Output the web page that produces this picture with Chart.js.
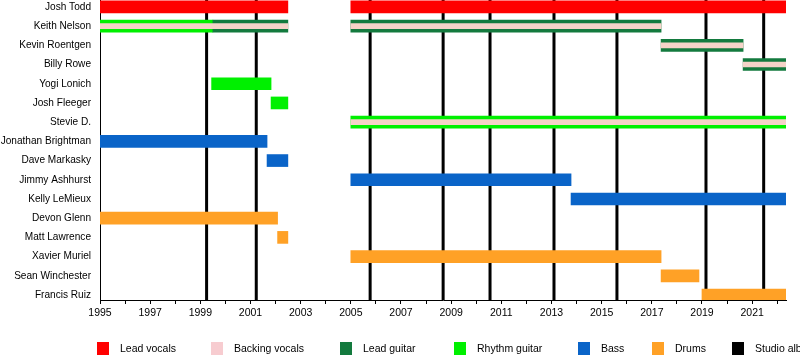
<!DOCTYPE html>
<html>
<head>
<meta charset="utf-8">
<script src="https://cdn.jsdelivr.net/npm/chart.js@4.4.1/dist/chart.umd.min.js"></script>
<style>
  body { margin: 0; background: #fff; overflow: hidden; }
  #wrap { width: 800px; height: 360px; position: relative; }
</style>
</head>
<body>
<div id="wrap"><canvas id="timeline"></canvas></div>
<script>
// Band members, top to bottom
const members = [
  'Josh Todd', 'Keith Nelson', 'Kevin Roentgen', 'Billy Rowe', 'Yogi Lonich',
  'Josh Fleeger', 'Stevie D.', 'Jonathan Brightman', 'Dave Markasky',
  'Jimmy Ashhurst', 'Kelly LeMieux', 'Devon Glenn', 'Matt Lawrence',
  'Xavier Muriel', 'Sean Winchester', 'Francis Ruiz'
];

const roles = ['Lead vocals', 'Backing vocals', 'Lead guitar', 'Rhythm guitar', 'Bass', 'Drums', 'Studio albums'];
const roleColors = ['#ff0000', '#f7ccd0', '#137a3e', '#00f000', '#0a64c8', '#ffa126', '#000000'];

const startYear = 1995;
const endYear = 2022.35;

// [member, role, from, to]
const spans = [
  ['Josh Todd', 'Lead vocals', 1995, 2002.49],
  ['Josh Todd', 'Lead vocals', 2005, endYear],
  ['Keith Nelson', 'Rhythm guitar', 1995, 1999.5],
  ['Keith Nelson', 'Lead guitar', 1999.5, 2002.49],
  ['Keith Nelson', 'Lead guitar', 2005, 2017.37],
  ['Kevin Roentgen', 'Lead guitar', 2017.37, 2020.64],
  ['Billy Rowe', 'Lead guitar', 2020.64, endYear],
  ['Yogi Lonich', 'Rhythm guitar', 1999.45, 2001.82],
  ['Josh Fleeger', 'Rhythm guitar', 2001.82, 2002.49],
  ['Stevie D.', 'Rhythm guitar', 2005, endYear],
  ['Jonathan Brightman', 'Bass', 1995, 2001.66],
  ['Dave Markasky', 'Bass', 2001.66, 2002.49],
  ['Jimmy Ashhurst', 'Bass', 2005, 2013.78],
  ['Kelly LeMieux', 'Bass', 2013.78, endYear],
  ['Devon Glenn', 'Drums', 1995, 2002.08],
  ['Matt Lawrence', 'Drums', 2002.08, 2002.49],
  ['Xavier Muriel', 'Drums', 2005, 2017.37],
  ['Sean Winchester', 'Drums', 2017.37, 2018.88],
  ['Francis Ruiz', 'Drums', 2019.0, endYear]
];

// backing vocals stripes: [member, from, to]
const backingSpans = [
  ['Keith Nelson', 1995, 2002.49],
  ['Keith Nelson', 2005, 2017.37],
  ['Kevin Roentgen', 2017.37, 2020.64],
  ['Billy Rowe', 2020.64, endYear],
  ['Stevie D.', 2005, endYear]
];

// release dates of studio albums
const albumYears = [1999.25, 2001.23, 2005.77, 2008.68, 2010.55, 2013.1, 2015.61, 2019.16, 2021.46];

const legendX = [97, 211, 340, 454, 578, 652, 732];

const font = { family: '"Liberation Sans", Arial, sans-serif', size: 10.5 };

const datasets = [];

// album lines, drawn first (behind the bars)
albumYears.forEach(year => {
  datasets.push({
    type: 'line',
    indexAxis: 'x',
    data: [{ x: year, y: -1 }, { x: year, y: members.length }],
    borderColor: '#000',
    borderWidth: 3,
    pointRadius: 0,
    order: 3
  });
});

['Lead vocals', 'Lead guitar', 'Rhythm guitar', 'Bass', 'Drums'].forEach(role => {
  datasets.push({
    type: 'bar',
    label: role,
    data: spans.filter(s => s[1] === role).map(s => ({ y: members.indexOf(s[0]), x: [s[2], s[3]] })),
    backgroundColor: roleColors[roles.indexOf(role)],
    barThickness: 12,
    grouped: false,
    order: 2
  });
});

datasets.push({
  type: 'bar',
  label: 'Backing vocals',
  data: backingSpans.map(s => ({ y: members.indexOf(s[0]), x: [s[1], s[2]] })),
  backgroundColor: '#f5d3c8',
  barThickness: 5,
  grouped: false,
  order: 1
});

const legendPlugin = {
  id: 'roleLegend',
  afterDraw(chart) {
    const ctx = chart.ctx;
    ctx.save();
    ctx.font = '10.5px "Liberation Sans", Arial, sans-serif';
    ctx.textBaseline = 'middle';
    roles.forEach((role, i) => {
      const x = legendX[i];
      ctx.fillStyle = roleColors[i];
      ctx.fillRect(x, 342, 12, 13);
      ctx.fillStyle = '#000';
      ctx.fillText(role, x + 23, 349);
    });
    ctx.restore();
  }
};

new Chart(document.getElementById('timeline'), {
  type: 'bar',
  data: { datasets: datasets },
  plugins: [legendPlugin],
  options: {
    responsive: true,
    maintainAspectRatio: false,
    animation: false,
    indexAxis: 'y',
    layout: { padding: { top: 0, right: 14, bottom: 0, left: 0 } },
    plugins: {
      legend: { display: false },
      tooltip: { enabled: false }
    },
    scales: {
      x: {
        type: 'linear',
        min: startYear,
        max: endYear,
        afterBuildTicks: scale => {
          const ticks = [];
          for (let y = startYear; y <= Math.floor(endYear); y++) ticks.push({ value: y });
          scale.ticks = ticks;
        },
        afterFit: scale => {
          scale.height = 60;
          scale.paddingLeft = 0;
          scale.paddingRight = 0;
        },
        ticks: {
          autoSkip: false,
          maxRotation: 0,
          padding: 3,
          color: '#000',
          font: font,
          callback: v => ((v - startYear) % 2 === 0 ? String(v) : '')
        },
        grid: { drawOnChartArea: false, drawTicks: true, tickLength: 4, color: '#000' },
        border: { color: '#000', width: 1 }
      },
      y: {
        type: 'linear',
        reverse: true,
        offset: false,
        min: -0.36,
        max: 15.26,
        afterBuildTicks: scale => {
          scale.ticks = members.map((m, i) => ({ value: i }));
        },
        afterFit: scale => {
          scale.width = 100;
          scale.paddingTop = 0;
          scale.paddingBottom = 0;
        },
        ticks: {
          autoSkip: false,
          padding: 9,
          color: '#000',
          font: { family: font.family, size: 10.1 },
          callback: v => members[v] ?? ''
        },
        grid: { drawOnChartArea: false, drawTicks: false },
        border: { color: '#000', width: 1 }
      }
    }
  }
});
</script>
</body>
</html>
